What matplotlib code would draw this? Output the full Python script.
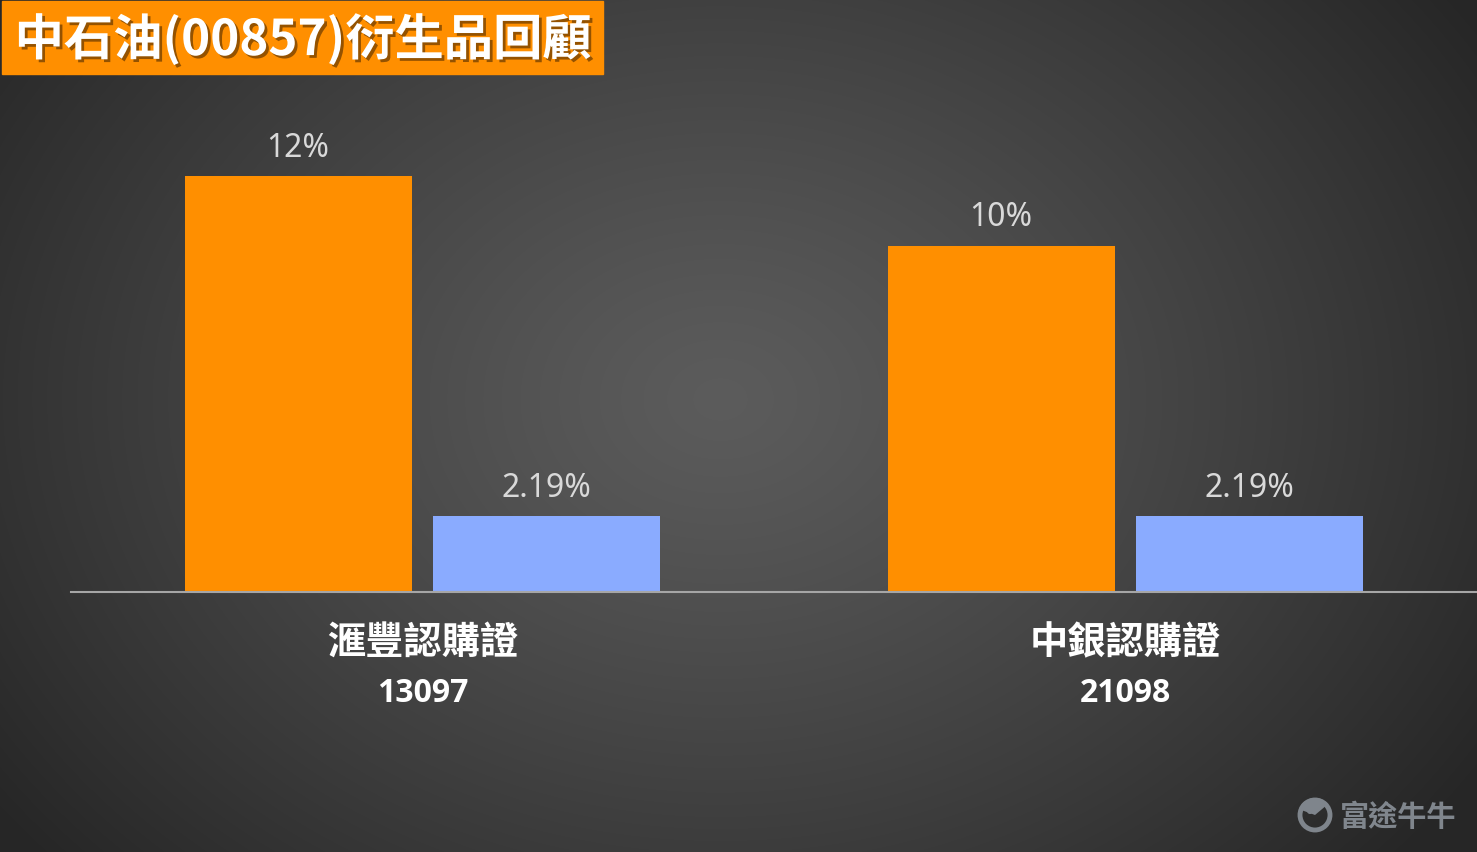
import numpy as np
import matplotlib.pyplot as plt
import matplotlib.patheffects as pe
from matplotlib.patches import Rectangle, Circle, Wedge

plt.rcParams['font.family'] = ['Noto Sans CJK TC', 'DejaVu Sans']

# data
categories = ["滙豐認購證", "中銀認購證"]
codes = ["13097", "21098"]
orange_vals = [12, 10]
blue_vals = [2.19, 2.19]
orange_labels = ["12%", "10%"]
blue_labels = ["2.19%", "2.19%"]
title = "中石油(00857)衍生品回顧"
watermark = "富途牛牛"

W, H = 1477, 853
fig = plt.figure(figsize=(W / 100, H / 100), dpi=100)

# radial background, drawn in pixel coords
bg = fig.add_axes([0, 0, 1, 1], zorder=0)
yy, xx = np.mgrid[0:H, 0:W]
d = np.sqrt(((xx - 720) / 900.0) ** 2 + ((yy - 400) / 700.0) ** 2)
d = np.clip(d, 0, 1)
c = 0.36 - 0.21 * d ** 1.2
img = np.dstack([c, c, c])
bg.imshow(img, extent=[0, W, H, 0], aspect='auto')
bg.set_xlim(0, W)
bg.set_ylim(H, 0)
bg.axis('off')

# main axes: x -0.5..1.5 from px 71 to 1477, baseline at y=593
ax = fig.add_axes([71 / W, (H - 593) / H, (1477 - 71) / W, (593 - 80) / H], zorder=1)
ax.patch.set_alpha(0)
x = np.arange(len(categories))
bw = 0.323
off = 0.177
ax.bar(x - off, orange_vals, width=bw, color="#ff8f00")
ax.bar(x + off, blue_vals, width=bw, color="#8aabff")
ax.set_xlim(-0.5, 1.5)
ax.set_ylim(0, (593 - 80) / 34.65)
for s in ["top", "right", "left"]:
    ax.spines[s].set_visible(False)
ax.spines["bottom"].set_color("#a6a6a6")
ax.spines["bottom"].set_linewidth(1.5)
ax.set_yticks([])
ax.set_xticks([])

num_font = ['Open Sans', 'DejaVu Sans']
for i in range(len(categories)):
    ax.annotate(orange_labels[i], (x[i] - off, orange_vals[i]), xytext=(0, 9),
                textcoords="offset points", ha="center", va="bottom",
                color="#d9d9d9", fontsize=23, family=['Noto Sans', 'DejaVu Sans'])
    ax.annotate(blue_labels[i], (x[i] + off, blue_vals[i]), xytext=(0, 9),
                textcoords="offset points", ha="center", va="bottom",
                color="#d9d9d9", fontsize=23, family=['Noto Sans', 'DejaVu Sans'])
    ax.annotate(categories[i], (x[i], 0), xytext=(0, -36), textcoords="offset points",
                ha="center", va="center", color="white", fontsize=27.5, fontweight="bold")
    ax.annotate(codes[i], (x[i], 0), xytext=(0, -72), textcoords="offset points",
                ha="center", va="center", color="white", fontsize=23, fontweight="bold",
                family=num_font)

# title box
fig.patches.append(Rectangle((2 / W, 1 - 75 / H), (603 - 2) / W, 73 / H,
                             transform=fig.transFigure, color="#ff8f00", zorder=2))
fig.text(303 / W, 1 - 40 / H, title, ha="center", va="center", color="white",
         fontsize=35.5, fontweight="bold", zorder=3,
         path_effects=[pe.withSimplePatchShadow(offset=(2, -2), shadow_rgbFace="#7a4300", alpha=0.8)])

# watermark logo + text
bg.add_patch(Circle((1315, 816), 15, facecolor="none", edgecolor="#7f858c", linewidth=3.5))
bg.add_patch(Wedge((1315, 816), 17, 200, 320, facecolor="#7f858c", edgecolor="none"))
bg.add_patch(Circle((1310, 812), 3, facecolor="#7f858c"))
fig.text(1398 / W, 1 - 817 / H, watermark, ha="center", va="center",
         color="#80868d", fontsize=21, fontweight="bold", zorder=3)

fig.savefig("out.png", dpi=100)
